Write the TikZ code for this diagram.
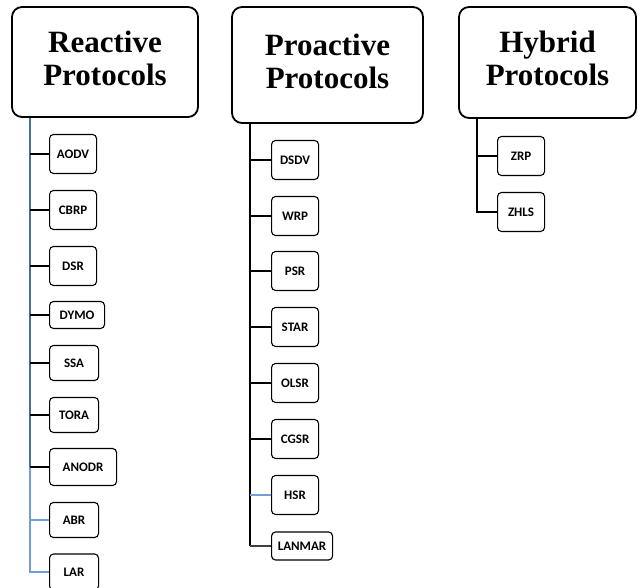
\documentclass[tikz,border=0pt]{standalone}
\usepackage{fontspec}
\setmainfont{Liberation Serif}
\newfontfamily\boxfont{Carlito}
\definecolor{trunkblue}{HTML}{41719C}
\definecolor{paleblue}{HTML}{6F9FD4}

\begin{document}
\begin{tikzpicture}[x=1pt,y=-1pt,
  title/.style={rectangle,draw,line width=1.8pt,rounded corners=10pt,inner sep=0pt,
    font=\fontsize{31}{33}\selectfont\bfseries},
  proto/.style={rectangle,draw,line width=1.1pt,rounded corners=4pt,anchor=west,
    minimum width=47pt,minimum height=39pt,inner sep=0pt,
    font=\boxfont\fontsize{13}{15}\selectfont\bfseries},
  link/.style={line width=1.3pt}]
\useasboundingbox (0,0) rectangle (638,588);

% three families
\node (RP) at (105,62) [title,minimum width=186pt,minimum height=110pt] {\begin{tabular}{c}Reactive\\ Protocols\end{tabular}};
\node (PP) at (327.5,65) [title,minimum width=191pt,minimum height=116pt] {\begin{tabular}{c}Proactive\\ Protocols\end{tabular}};
\node (HP) at (547.5,62.5) [title,minimum width=177pt,minimum height=111pt] {\begin{tabular}{c}Hybrid\\ Protocols\end{tabular}};

% reactive
\node (AODV) at (49,154) [proto] {AODV};
\node (CBRP) at (49,210) [proto] {CBRP};
\node (DSR) at (49,266) [proto] {DSR};
\node (DYMO) at (49,315) [proto,minimum width=55pt,minimum height=27pt] {DYMO};
\node (SSA) at (49,363) [proto,minimum width=49pt,minimum height=35pt] {SSA};
\node (TORA) at (49,415) [proto,minimum width=49pt,minimum height=35pt] {TORA};
\node (ANODR) at (49,467) [proto,minimum width=67pt,minimum height=37pt] {ANODR};
\node (ABR) at (49,520) [proto,minimum width=49pt,minimum height=35pt] {ABR};
\node (LAR) at (49,572) [proto,minimum width=49pt,minimum height=36pt] {LAR};

% proactive
\node (DSDV) at (271,160) [proto] {DSDV};
\node (WRP) at (271,216) [proto] {WRP};
\node (PSR) at (271,271) [proto] {PSR};
\node (STAR) at (271,327) [proto] {STAR};
\node (OLSR) at (271,383) [proto] {OLSR};
\node (CGSR) at (271,439) [proto] {CGSR};
\node (HSR) at (271,495) [proto] {HSR};
\node (LANMAR) at (271,546) [proto,minimum width=61pt,minimum height=28pt] {LANMAR};

% hybrid
\node (ZRP) at (497,156) [proto] {ZRP};
\node (ZHLS) at (497,212) [proto] {ZHLS};

\coordinate (rtrunk) at ([xshift=19pt]RP.south west);
\coordinate (ptrunk) at ([xshift=19pt]PP.south west);
\coordinate (htrunk) at ([xshift=19pt]HP.south west);

% trunks
\draw[link,trunkblue] (rtrunk) -- (rtrunk |- ANODR.west);
\draw[link,paleblue] (rtrunk |- ANODR.west) |- (LAR.west);
\draw[link] (ptrunk) -- (ptrunk |- LANMAR.west);
\draw[link] (htrunk) |- (ZHLS.west);

% branches
\foreach \n in {AODV,CBRP,DSR,DYMO,SSA,TORA,ANODR}
  \draw[link] (\n.west) -- (\n.west -| rtrunk);
\draw[link,paleblue] (ABR.west) -- (ABR.west -| rtrunk);
\foreach \n in {DSDV,WRP,PSR,STAR,OLSR,CGSR}
  \draw[link] (\n.west) -- (\n.west -| ptrunk);
\draw[link,paleblue] (HSR.west) -- (HSR.west -| ptrunk);
\draw[link,black!75] (LANMAR.west) -- (LANMAR.west -| ptrunk);
\draw[link] (ZRP.west) -- (ZRP.west -| htrunk);
\end{tikzpicture}
\end{document}
